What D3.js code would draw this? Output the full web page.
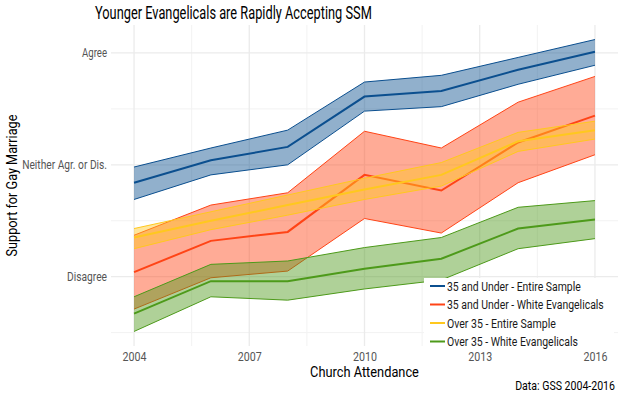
<!DOCTYPE html>
<html>
<head>
<meta charset="utf-8">
<script src="https://cdn.jsdelivr.net/npm/d3@7"></script>
<style>
  body { margin: 0; background: #fff; }
  text { font-family: Roboto, "Liberation Sans", sans-serif; font-weight: 400; }
</style>
</head>
<body>
<div id="chart"></div>
<script>
const years = [2004, 2006, 2008, 2010, 2012, 2014, 2016];
const yTickValues = [2, 3, 4];
const yTickLabels = ["Disagree", "Neither Agr. or Dis.", "Agree"];
const xTickValues = [2004, 2007, 2010, 2013, 2016];
const seriesNames = [
  "35 and Under - Entire Sample",
  "35 and Under - White Evangelicals",
  "Over 35 - Entire Sample",
  "Over 35 - White Evangelicals"
];
const seriesColors = ["#0b4f8f", "#ff4416", "#ffc81e", "#4d9a1a"];

// mean, upper and lower bound per series
const youngAllMean = [2.84, 3.04, 3.16, 3.61, 3.66, 3.85, 4.01];
const youngAllHigh = [2.98, 3.15, 3.31, 3.74, 3.80, 3.96, 4.12];
const youngAllLow  = [2.69, 2.91, 3.00, 3.48, 3.52, 3.72, 3.89];

const youngEvMean = [2.04, 2.32, 2.40, 2.91, 2.77, 3.20, 3.44];
const youngEvHigh = [2.37, 2.64, 2.75, 3.30, 3.15, 3.56, 3.79];
const youngEvLow  = [1.71, 1.99, 2.05, 2.52, 2.39, 2.84, 3.09];

const oldAllMean = [2.35, 2.50, 2.64, 2.78, 2.91, 3.21, 3.31];
const oldAllHigh = [2.43, 2.58, 2.73, 2.88, 3.02, 3.29, 3.39];
const oldAllLow  = [2.25, 2.42, 2.55, 2.69, 2.81, 3.12, 3.23];

const oldEvMean = [1.67, 1.96, 1.96, 2.07, 2.16, 2.43, 2.51];
const oldEvHigh = [1.82, 2.11, 2.14, 2.26, 2.35, 2.62, 2.68];
const oldEvLow  = [1.51, 1.82, 1.79, 1.89, 1.97, 2.25, 2.34];

const series = [
  [youngAllMean, youngAllHigh, youngAllLow],
  [youngEvMean, youngEvHigh, youngEvLow],
  [oldAllMean, oldAllHigh, oldAllLow],
  [oldEvMean, oldEvHigh, oldEvLow]
].map((s, i) => ({
  name: seriesNames[i],
  color: seriesColors[i],
  values: years.map((yr, j) => ({ year: yr, mean: s[0][j], high: s[1][j], low: s[2][j] }))
}));

const width = 624, height = 398;
const margin = { top: 25, right: 6, bottom: 52, left: 111 };
const innerW = width - margin.left - margin.right;
const innerH = height - margin.top - margin.bottom;

const svg = d3.select("#chart").append("svg")
  .attr("width", width)
  .attr("height", height);

// squeeze text horizontally to the narrow widths of the original condensed font
function fit(sel, w) {
  sel.each(function() {
    const t = d3.select(this);
    const k = w / this.getComputedTextLength();
    const X = +t.attr("x") || 0;
    const prev = t.attr("transform") || "";
    t.attr("transform", `${prev} translate(${X},0) scale(${k},1) translate(${-X},0)`);
  });
}

const x = d3.scaleLinear().domain([2003.4, 2016.6]).range([0, innerW]);
const y = d3.scaleLinear().domain([1.38, 4.25]).range([innerH, 0]);

const g = svg.append("g").attr("transform", `translate(${margin.left},${margin.top})`);

// grid
const grid = g.append("g");
const xMinor = d3.range(2005.5, 2016, 3);
const yMinor = [1.5, 2.5, 3.5];
grid.selectAll(".vmin").data(xMinor).enter().append("line")
  .attr("x1", d => x(d)).attr("x2", d => x(d)).attr("y1", 0).attr("y2", innerH)
  .attr("stroke", "#f2f2f2").attr("stroke-width", 1);
grid.selectAll(".hmin").data(yMinor).enter().append("line")
  .attr("y1", d => y(d)).attr("y2", d => y(d)).attr("x1", 0).attr("x2", innerW)
  .attr("stroke", "#f2f2f2").attr("stroke-width", 1);
grid.selectAll(".vmaj").data(xTickValues).enter().append("line")
  .attr("x1", d => x(d)).attr("x2", d => x(d)).attr("y1", 0).attr("y2", innerH)
  .attr("stroke", "#ebebeb").attr("stroke-width", 1.3);
grid.selectAll(".hmaj").data(yTickValues).enter().append("line")
  .attr("y1", d => y(d)).attr("y2", d => y(d)).attr("x1", 0).attr("x2", innerW)
  .attr("stroke", "#ebebeb").attr("stroke-width", 1.3);

// bands + lines
const area = d3.area().x(d => x(d.year)).y0(d => y(d.low)).y1(d => y(d.high));
const lineOf = key => d3.line().x(d => x(d.year)).y(d => y(d[key]));

series.forEach(s => {
  const sg = g.append("g");
  sg.append("path").datum(s.values)
    .attr("d", area)
    .attr("fill", s.color).attr("fill-opacity", 0.45);
  ["high", "low"].forEach(k => {
    sg.append("path").datum(s.values)
      .attr("d", lineOf(k))
      .attr("fill", "none").attr("stroke", s.color).attr("stroke-width", 1);
  });
  sg.append("path").datum(s.values)
    .attr("d", lineOf("mean"))
    .attr("fill", "none").attr("stroke", s.color).attr("stroke-width", 2);
});

// axes
const xAxis = g.append("g").attr("transform", `translate(0,${innerH})`)
  .call(d3.axisBottom(x).tickValues(xTickValues).tickFormat(d3.format("d")).tickSize(0).tickPadding(6));
const yAxis = g.append("g")
  .call(d3.axisLeft(y).tickValues(yTickValues).tickFormat((d, i) => yTickLabels[i]).tickSize(0).tickPadding(4));
[xAxis, yAxis].forEach(a => {
  a.select(".domain").remove();
  a.selectAll("text").attr("fill", "#555").style("font-size", "12px")
    .style("font-family", "Roboto, sans-serif");
});
xAxis.selectAll("text").call(fit, 24);
const yLabelW = [40, 85, 25];
yAxis.selectAll("text").each(function(d, i) { d3.select(this).call(fit, yLabelW[i]); });

// legend
const legendW = [134, 157, 109, 131];
const legend = g.append("g").attr("transform", `translate(${319},${261})`);
legend.append("rect")
  .attr("x", -6).attr("y", -8).attr("width", 190).attr("height", 68)
  .attr("fill", "#fff");
seriesNames.forEach((n, i) => {
  const row = legend.append("g").attr("transform", `translate(0,${i * 18.5})`);
  row.append("line").attr("x1", 0).attr("x2", 15).attr("y1", 0).attr("y2", 0)
    .attr("stroke", seriesColors[i]).attr("stroke-width", 2);
  row.append("text").attr("x", 17).attr("y", 0).attr("dy", "0.35em")
    .style("font-size", "13px").attr("fill", "#1a1a1a").text(n)
    .call(fit, legendW[i]);
});

// titles
svg.append("text").attr("x", 95).attr("y", 19)
  .style("font-size", "18px").attr("fill", "#000")
  .text("Younger Evangelicals are Rapidly Accepting SSM")
  .call(fit, 277);
svg.append("text").attr("x", margin.left + innerW / 2).attr("y", 377)
  .attr("text-anchor", "middle").style("font-size", "14px")
  .text("Church Attendance")
  .call(fit, 109);
svg.append("text")
  .attr("transform", `translate(17,${margin.top + innerH / 2}) rotate(-90)`)
  .attr("text-anchor", "middle").style("font-size", "14.5px")
  .text("Support for Gay Marriage")
  .call(fit, 142);
svg.append("text").attr("x", 615).attr("y", 390)
  .attr("text-anchor", "end").style("font-size", "12px")
  .text("Data: GSS 2004-2016")
  .call(fit, 100);
</script>
</body>
</html>
